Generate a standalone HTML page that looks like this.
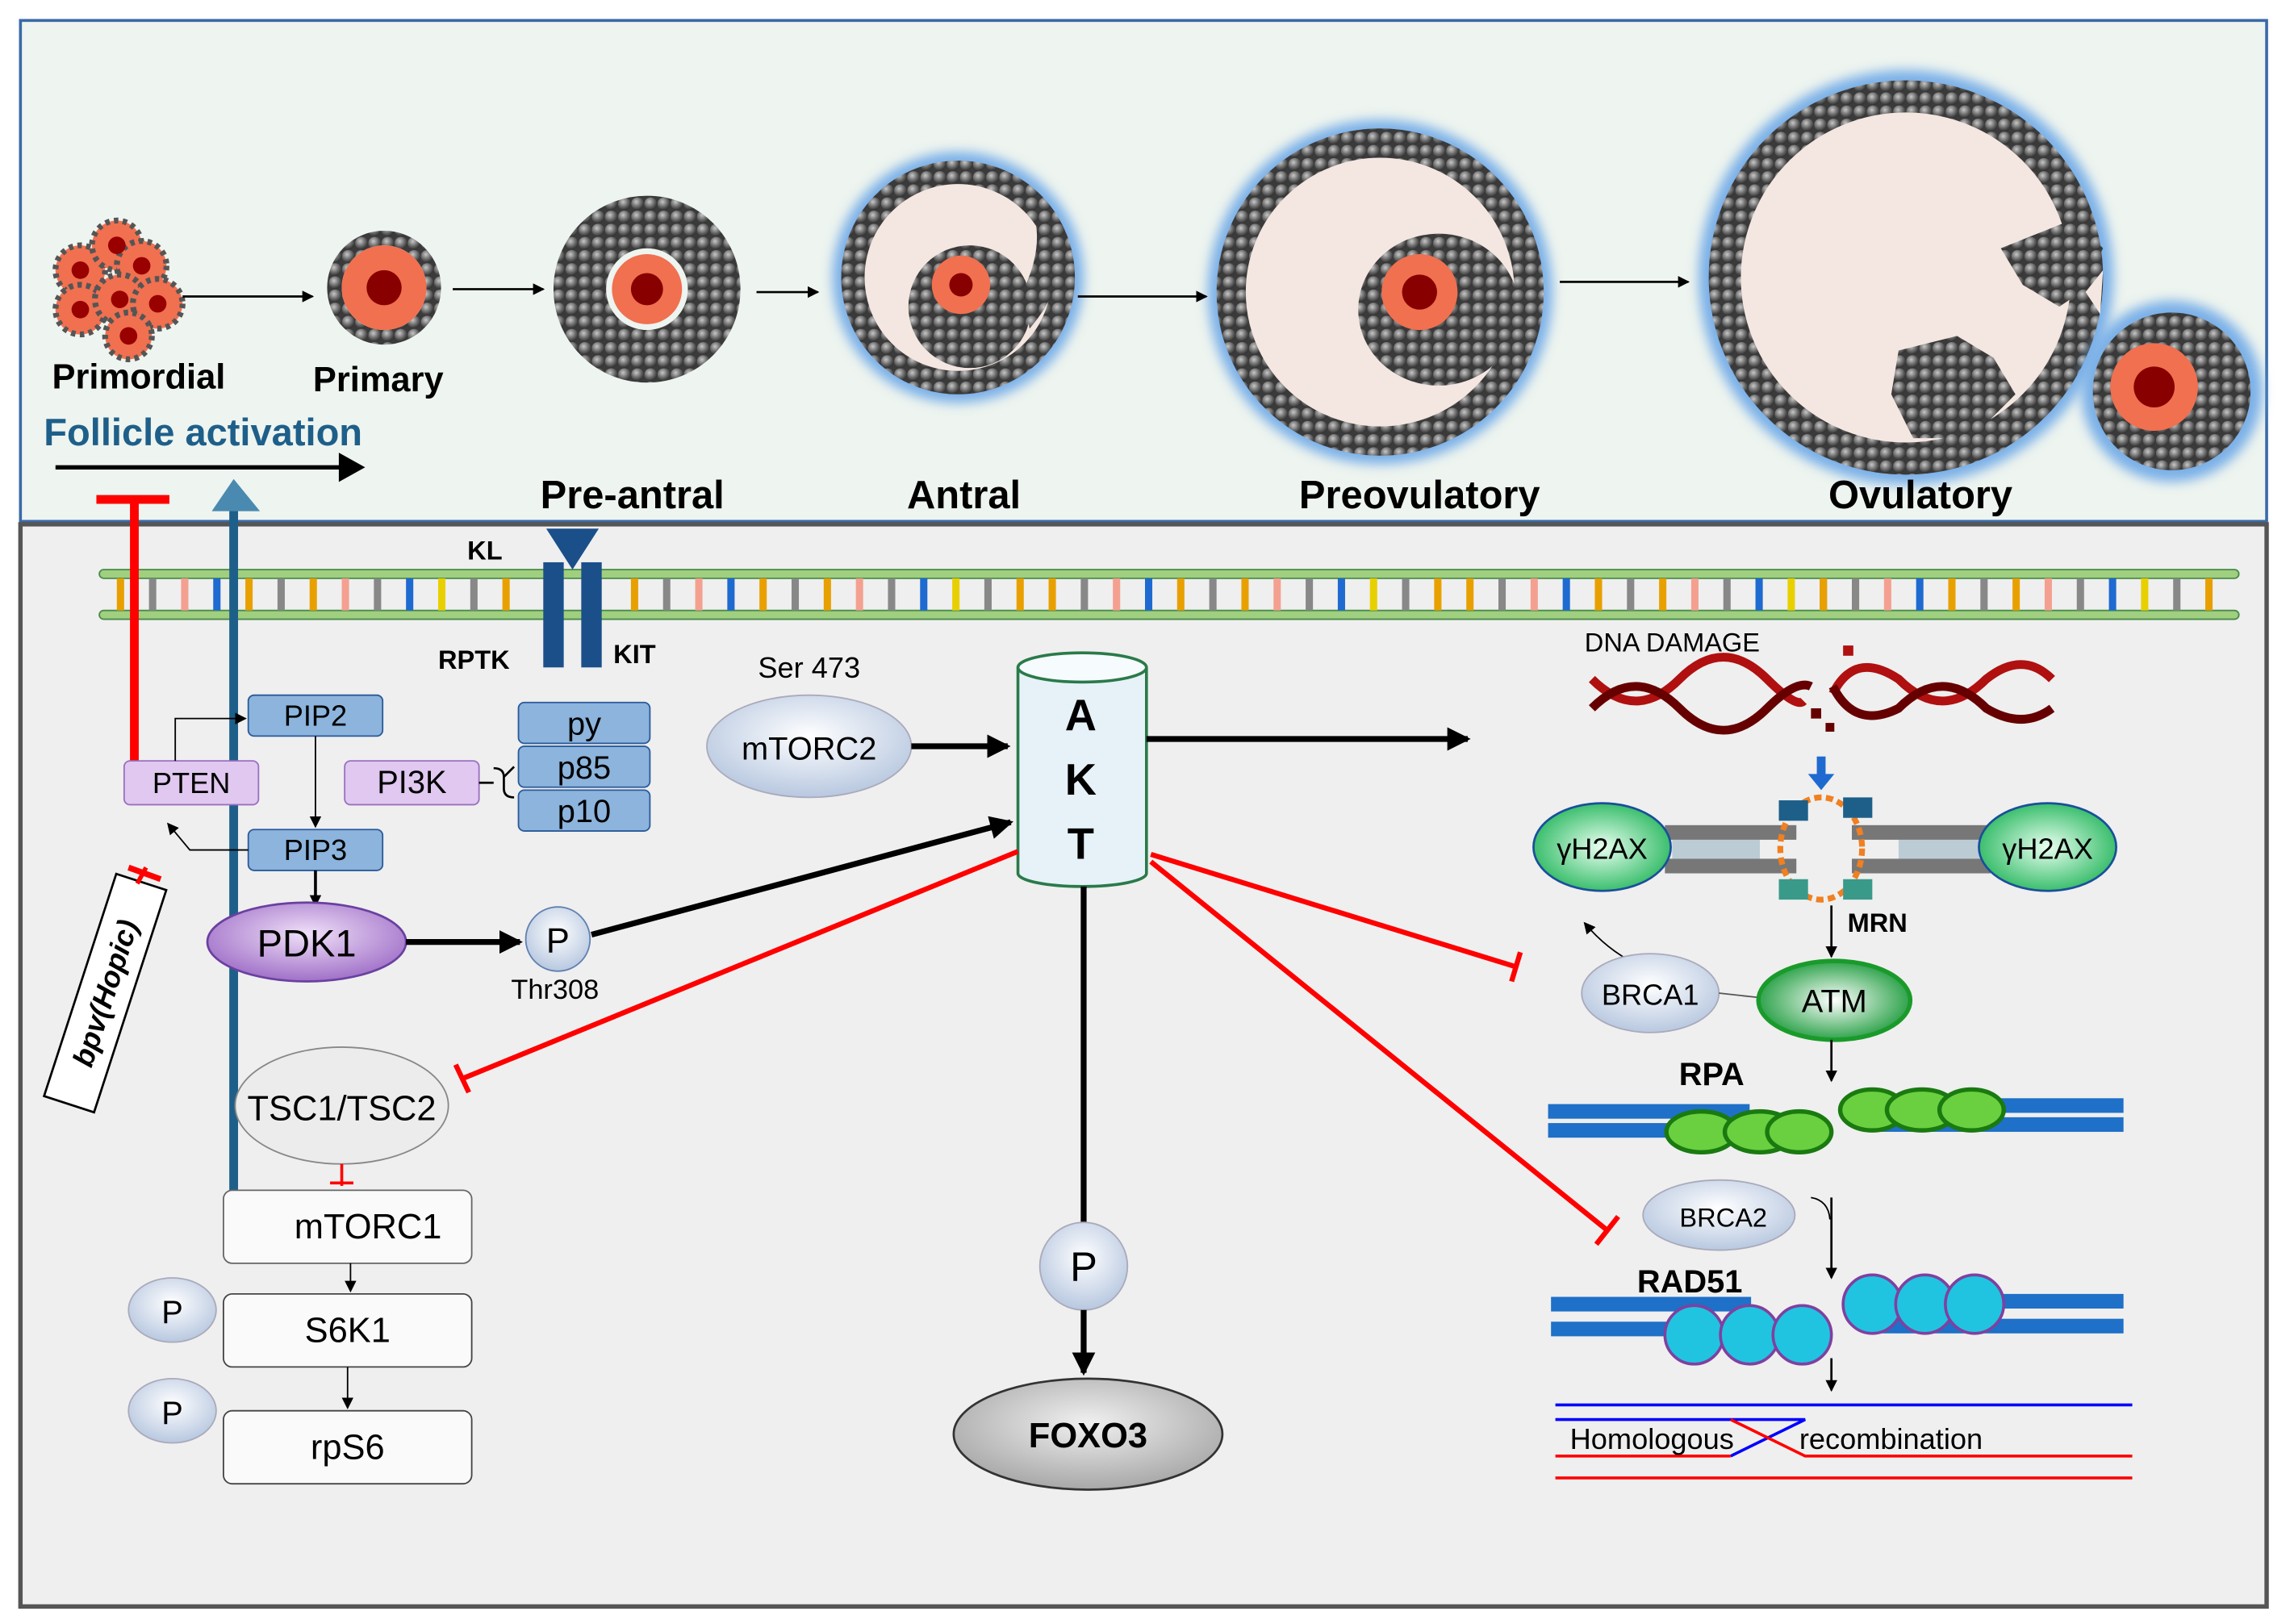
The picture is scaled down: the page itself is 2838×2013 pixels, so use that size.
<!DOCTYPE html>
<html><head><meta charset="utf-8"><style>
html,body{margin:0;padding:0;background:#fff;}
svg{display:block;}
text{font-family:"Liberation Sans",sans-serif;}
</style></head><body>
<svg width="2838" height="2013" viewBox="0 0 1568 1112" preserveAspectRatio="none" xmlns="http://www.w3.org/2000/svg">
<defs>
<marker id="ah" markerWidth="8" markerHeight="8" refX="7" refY="4" orient="auto" markerUnits="userSpaceOnUse"><path d="M0,0 L8,4 L0,8z" fill="#000"/></marker>
<marker id="ahb" markerWidth="16" markerHeight="16" refX="14" refY="8" orient="auto" markerUnits="userSpaceOnUse"><path d="M0,0 L16,8 L0,16z" fill="#000"/></marker>
<radialGradient id="gr" cx="50%" cy="40%" r="60%"><stop offset="0" stop-color="#fff"/><stop offset="1" stop-color="#b8c8e0"/></radialGradient>
<radialGradient id="gg" cx="50%" cy="50%" r="55%"><stop offset="0" stop-color="#fff"/><stop offset="1" stop-color="#1a9a3a"/></radialGradient>
<radialGradient id="gh" cx="50%" cy="50%" r="55%"><stop offset="0" stop-color="#e8fff0"/><stop offset="1" stop-color="#2ab860"/></radialGradient>
<radialGradient id="gp" cx="50%" cy="40%" r="60%"><stop offset="0" stop-color="#f0e0f8"/><stop offset="1" stop-color="#a070c8"/></radialGradient>
<radialGradient id="gy" cx="50%" cy="40%" r="60%"><stop offset="0" stop-color="#f0f0f0"/><stop offset="1" stop-color="#a8a8a8"/></radialGradient>
<radialGradient id="bd" cx="40%" cy="35%" r="65%"><stop offset="0" stop-color="#c8c8c8"/><stop offset="0.6" stop-color="#6a6a6a"/><stop offset="1" stop-color="#333"/></radialGradient>
<pattern id="beads" width="9" height="9" patternUnits="userSpaceOnUse">
<rect width="9" height="9" fill="#3a3a3a"/><circle cx="4.5" cy="4.5" r="4.3" fill="url(#bd)"/>
</pattern>
<filter id="glow"><feGaussianBlur stdDeviation="4"/></filter>
</defs>
<!-- panels -->
<rect x="14" y="14" width="1538" height="343" fill="#eef4ef" stroke="#3a6aa8" stroke-width="2"/>
<rect x="14" y="359" width="1538" height="741" fill="#efefef" stroke="#555" stroke-width="3"/>

<!-- follicles -->
<g>
<circle cx="55" cy="185" r="17" fill="#f07050" stroke="#555" stroke-width="4" stroke-dasharray="3 3"/>
<circle cx="80" cy="168" r="17" fill="#f07050" stroke="#555" stroke-width="4" stroke-dasharray="3 3"/>
<circle cx="97" cy="182" r="17" fill="#f07050" stroke="#555" stroke-width="4" stroke-dasharray="3 3"/>
<circle cx="55" cy="212" r="17" fill="#f07050" stroke="#555" stroke-width="4" stroke-dasharray="3 3"/>
<circle cx="82" cy="205" r="17" fill="#f07050" stroke="#555" stroke-width="4" stroke-dasharray="3 3"/>
<circle cx="108" cy="208" r="17" fill="#f07050" stroke="#555" stroke-width="4" stroke-dasharray="3 3"/>
<circle cx="88" cy="230" r="16" fill="#f07050" stroke="#555" stroke-width="4" stroke-dasharray="3 3"/>
<circle cx="55" cy="185" r="6" fill="#900"/><circle cx="80" cy="168" r="6" fill="#900"/><circle cx="97" cy="182" r="6" fill="#900"/><circle cx="55" cy="212" r="6" fill="#900"/><circle cx="82" cy="205" r="6" fill="#900"/><circle cx="108" cy="208" r="6" fill="#900"/><circle cx="88" cy="230" r="6" fill="#900"/>
</g>
<circle cx="263" cy="197" r="34" fill="none" stroke="url(#beads)" stroke-width="10"/>
<circle cx="263" cy="197" r="29" fill="#f07050"/>
<circle cx="263" cy="197" r="12" fill="#800"/>
<circle cx="443" cy="198" r="46" fill="none" stroke="url(#beads)" stroke-width="36"/>
<circle cx="443" cy="198" r="24" fill="#f07050"/><circle cx="443" cy="198" r="11" fill="#800"/>
<!-- antral -->
<circle cx="656" cy="190" r="86" fill="#7ab0e8" filter="url(#glow)"/>
<circle cx="656" cy="190" r="72" fill="#f4e6e0" stroke="url(#beads)" stroke-width="16"/>
<ellipse cx="664" cy="210" rx="42" ry="42" fill="url(#beads)"/>
<path d="M700,200 Q720,160 700,130 L725,150 Q735,190 705,225z" fill="url(#beads)"/>
<circle cx="658" cy="195" r="20" fill="#f07050"/><circle cx="658" cy="195" r="8" fill="#800"/>
<!-- preovulatory -->
<circle cx="945" cy="200" r="118" fill="#7ab0e8" filter="url(#glow)"/>
<circle cx="945" cy="200" r="102" fill="#f4e6e0" stroke="url(#beads)" stroke-width="20"/>
<ellipse cx="985" cy="212" rx="55" ry="52" fill="url(#beads)"/>
<circle cx="972" cy="200" r="26" fill="#f07050"/><circle cx="972" cy="200" r="12" fill="#800"/>
<!-- ovulatory -->
<circle cx="1305" cy="190" r="142" fill="#7ab0e8" filter="url(#glow)"/>
<circle cx="1305" cy="190" r="124" fill="#f4e6e0" stroke="url(#beads)" stroke-width="22"/>
<path d="M1420,150 L1440,170 L1425,200 L1410,210 L1385,195 L1370,170 L1395,160z" fill="url(#beads)"/>
<path d="M1300,240 L1340,230 L1365,245 L1380,270 L1350,300 L1310,300 L1295,270z" fill="url(#beads)"/>
<path d="M1438,215 L1440,185 L1428,200z" fill="#f4e6e0"/>
<circle cx="1487" cy="268" r="62" fill="#7ab0e8" filter="url(#glow)"/>
<circle cx="1487" cy="268" r="54" fill="url(#beads)"/>
<circle cx="1475" cy="265" r="30" fill="#f07050"/><circle cx="1475" cy="265" r="14" fill="#800"/>
<!-- follicle arrows -->
<g stroke="#000" stroke-width="1.5" marker-end="url(#ah)">
<line x1="125" y1="203" x2="214" y2="203"/><line x1="310" y1="198" x2="372" y2="198"/>
<line x1="518" y1="200" x2="560" y2="200"/><line x1="738" y1="203" x2="826" y2="203"/>
<line x1="1068" y1="193" x2="1156" y2="193"/>
</g>
<g font-weight="bold" font-size="24" text-anchor="middle">
<text x="95" y="266">Primordial</text><text x="259" y="268">Primary</text>
<text x="433" y="348" font-size="27">Pre-antral</text><text x="660" y="348" font-size="27">Antral</text>
<text x="972" y="348" font-size="27">Preovulatory</text><text x="1315" y="348" font-size="27">Ovulatory</text>
</g>
<text x="30" y="305" font-size="26" font-weight="bold" fill="#1e5f8a">Follicle activation</text>
<line x1="38" y1="320" x2="236" y2="320" stroke="#000" stroke-width="3"/><path d="M232,310 L250,320 L232,330z"/>

<!-- membrane -->
<g>
<rect x="68" y="390" width="1465" height="6" rx="3" fill="#9fcf7f" stroke="#4a8a4a"/>
<rect x="68" y="418" width="1465" height="6" rx="3" fill="#9fcf7f" stroke="#4a8a4a"/>
<g id="bars">
<rect x="80" y="396" width="5" height="22" fill="#e8a000"/><rect x="102" y="396" width="5" height="22" fill="#888"/><rect x="124" y="396" width="5" height="22" fill="#f4a090"/><rect x="146" y="396" width="5" height="22" fill="#1e6ad0"/><rect x="168" y="396" width="5" height="22" fill="#e8a000"/><rect x="190" y="396" width="5" height="22" fill="#888"/><rect x="212" y="396" width="5" height="22" fill="#e8a000"/><rect x="234" y="396" width="5" height="22" fill="#f4a090"/><rect x="256" y="396" width="5" height="22" fill="#888"/><rect x="278" y="396" width="5" height="22" fill="#1e6ad0"/><rect x="300" y="396" width="5" height="22" fill="#e8d000"/><rect x="322" y="396" width="5" height="22" fill="#888"/><rect x="344" y="396" width="5" height="22" fill="#e8a000"/>
</g>
<use href="#bars" x="352"/><use href="#bars" x="638"/><use href="#bars" x="924"/><use href="#bars" x="1166"/>
</g>
<!-- receptor -->
<path d="M374,362 L410,362 L392,390z" fill="#1a4f8a"/>
<rect x="372" y="385" width="14" height="72" fill="#1a4f8a"/><rect x="398" y="385" width="14" height="72" fill="#1a4f8a"/>
<text x="320" y="383" font-size="18" font-weight="bold">KL</text>
<text x="300" y="458" font-size="18" font-weight="bold">RPTK</text>
<text x="420" y="454" font-size="18" font-weight="bold">KIT</text>

<!-- inhibitor / activation lines left -->
<line x1="92" y1="342" x2="92" y2="521" stroke="#f00" stroke-width="6"/>
<line x1="66" y1="342" x2="116" y2="342" stroke="#f00" stroke-width="6"/>
<line x1="160" y1="345" x2="160" y2="815" stroke="#1e5f8a" stroke-width="6"/>
<path d="M145,350 L160,328 L178,350z" fill="#4a8ab0"/>

<!-- PI3K module -->
<g font-size="20" text-anchor="middle">
<rect x="170" y="476" width="92" height="28" rx="4" fill="#8cb4dc" stroke="#2a5a9a"/><text x="216" y="497">PIP2</text>
<rect x="170" y="568" width="92" height="28" rx="4" fill="#8cb4dc" stroke="#2a5a9a"/><text x="216" y="589">PIP3</text>
<rect x="85" y="521" width="92" height="30" rx="4" fill="#e0c8f0" stroke="#9a70c0"/><text x="131" y="543">PTEN</text>
<rect x="236" y="521" width="92" height="30" rx="4" fill="#e0c8f0" stroke="#9a70c0"/><text x="282" y="543" font-size="22">PI3K</text>
<rect x="355" y="481" width="90" height="28" rx="4" fill="#8cb4dc" stroke="#2a5a9a"/><text x="400" y="503" font-size="22">py</text>
<rect x="355" y="511" width="90" height="28" rx="4" fill="#8cb4dc" stroke="#2a5a9a"/><text x="400" y="533" font-size="22">p85</text>
<rect x="355" y="541" width="90" height="28" rx="4" fill="#8cb4dc" stroke="#2a5a9a"/><text x="400" y="563" font-size="22">p10</text>
</g>
<path d="M328,536 L338,536 M338,526 Q345,526 345,532 L345,540 Q345,546 352,546 M345,532 L352,525" stroke="#000" fill="none" stroke-width="1.5"/>
<path d="M120,521 L120,492 L168,492" stroke="#000" fill="none" stroke-width="1" marker-end="url(#ah)"/>
<path d="M170,582 L130,582 L115,564" stroke="#000" fill="none" stroke-width="1" marker-end="url(#ah)"/>
<line x1="216" y1="504" x2="216" y2="566" stroke="#000" marker-end="url(#ah)"/>
<line x1="216" y1="596" x2="216" y2="620" stroke="#000" stroke-width="2" marker-end="url(#ah)"/>
<ellipse cx="210" cy="645" rx="68" ry="27" fill="url(#gp)" stroke="#6a40a0" stroke-width="1.5"/>
<text x="210" y="655" font-size="26" text-anchor="middle">PDK1</text>
<line x1="278" y1="645" x2="356" y2="645" stroke="#000" stroke-width="4" marker-end="url(#ahb)"/>
<circle cx="382" cy="643" r="22" fill="url(#gr)" stroke="#6080b0"/>
<text x="382" y="652" font-size="24" text-anchor="middle">P</text>
<text x="380" y="684" font-size="19" text-anchor="middle">Thr308</text>
<line x1="405" y1="640" x2="692" y2="563" stroke="#000" stroke-width="4" marker-end="url(#ahb)"/>

<!-- bpv -->
<g transform="translate(72,680) rotate(-72)">
<rect x="-80" y="-18" width="160" height="36" fill="#fff" stroke="#000" stroke-width="1.5"/>
<text x="0" y="7" font-size="20" font-weight="bold" font-style="italic" text-anchor="middle">bpv(Hopic)</text>
</g>
<line x1="94" y1="605" x2="100" y2="594" stroke="#f00" stroke-width="3"/>
<line x1="88" y1="594" x2="110" y2="602" stroke="#f00" stroke-width="4"/>

<!-- mTOR -->
<ellipse cx="234" cy="757" rx="73" ry="40" fill="#ececec" stroke="#888"/>
<text x="234" y="767" font-size="24" text-anchor="middle">TSC1/TSC2</text>
<line x1="234" y1="797" x2="234" y2="812" stroke="#f00" stroke-width="2"/><line x1="226" y1="810" x2="242" y2="810" stroke="#f00" stroke-width="2"/>
<g font-size="24" text-anchor="middle">
<rect x="153" y="815" width="170" height="50" rx="6" fill="#fafafa" stroke="#666"/><text x="252" y="848">mTORC1</text>
<rect x="153" y="886" width="170" height="50" rx="6" fill="#fafafa" stroke="#444"/><text x="238" y="919">S6K1</text>
<rect x="153" y="966" width="170" height="50" rx="6" fill="#fafafa" stroke="#444"/><text x="238" y="999">rpS6</text>
</g>
<line x1="240" y1="865" x2="240" y2="884" stroke="#000" marker-end="url(#ah)"/>
<line x1="238" y1="936" x2="238" y2="964" stroke="#000" marker-end="url(#ah)"/>
<ellipse cx="118" cy="897" rx="30" ry="22" fill="url(#gr)" stroke="#aab"/><text x="118" y="906" font-size="22" text-anchor="middle">P</text>
<ellipse cx="118" cy="966" rx="30" ry="22" fill="url(#gr)" stroke="#aab"/><text x="118" y="975" font-size="22" text-anchor="middle">P</text>

<!-- mTORC2 / AKT -->
<text x="554" y="464" font-size="20" text-anchor="middle">Ser 473</text>
<ellipse cx="554" cy="511" rx="70" ry="35" fill="url(#gr)" stroke="#aab"/>
<text x="554" y="520" font-size="22" text-anchor="middle">mTORC2</text>
<line x1="624" y1="511" x2="690" y2="511" stroke="#000" stroke-width="4" marker-end="url(#ahb)"/>
<path d="M697,457 L697,598 A44,9 0 0 0 785,598 L785,457" fill="#e6f2f8" stroke="#2a7a4a" stroke-width="2"/>
<ellipse cx="741" cy="457" rx="44" ry="10" fill="#f6fbfd" stroke="#2a7a4a" stroke-width="2"/>
<g font-size="30" font-weight="bold" text-anchor="middle"><text x="740" y="500">A</text><text x="740" y="544">K</text><text x="740" y="588">T</text></g>
<line x1="785" y1="506" x2="1005" y2="506" stroke="#000" stroke-width="4" marker-end="url(#ahb)"/>
<line x1="742" y1="607" x2="742" y2="838" stroke="#000" stroke-width="4"/>
<ellipse cx="742" cy="867" rx="30" ry="30" fill="url(#gr)" stroke="#aab"/><text x="742" y="877" font-size="28" text-anchor="middle">P</text>
<line x1="742" y1="897" x2="742" y2="940" stroke="#000" stroke-width="4" marker-end="url(#ahb)"/>
<ellipse cx="745" cy="982" rx="92" ry="38" fill="url(#gy)" stroke="#333" stroke-width="1.5"/>
<text x="745" y="991" font-size="24" font-weight="bold" text-anchor="middle">FOXO3</text>

<!-- red inhibition lines -->
<g stroke="#f00" stroke-width="3.5" fill="none">
<line x1="697" y1="583" x2="318" y2="738"/><line x1="312" y1="729" x2="321" y2="748"/>
<line x1="788" y1="585" x2="1038" y2="662"/><line x1="1041" y1="652" x2="1035" y2="672"/>
<line x1="788" y1="590" x2="1100" y2="842"/><line x1="1108" y1="833" x2="1093" y2="852"/>
</g>

<!-- DNA damage side -->
<text x="1085" y="446" font-size="18">DNA  DAMAGE</text>
<g fill="none" stroke-width="6">
<path d="M1090,465 Q1120,495 1150,465 Q1180,435 1210,465 Q1230,485 1235,480" stroke="#b01010"/>
<path d="M1090,485 Q1120,455 1150,485 Q1180,515 1210,485 Q1230,465 1240,470" stroke="#600"/>
<path d="M1255,475 Q1270,445 1300,465 Q1330,495 1360,465 Q1385,445 1405,465" stroke="#b01010"/>
<path d="M1255,470 Q1270,500 1300,485 Q1330,455 1360,485 Q1385,500 1405,485" stroke="#600"/>
</g>
<rect x="1262" y="442" width="7" height="7" fill="#b01010"/><rect x="1240" y="485" width="7" height="7" fill="#600"/><rect x="1250" y="495" width="6" height="6" fill="#600"/>
<rect x="1244" y="518" width="6" height="14" fill="#1e6ad0"/><path d="M1238,530 L1256,530 L1247,541z" fill="#1e6ad0"/>
<!-- H2AX complex -->
<rect x="1140" y="565" width="90" height="10" fill="#777"/><rect x="1140" y="588" width="90" height="10" fill="#777"/>
<rect x="1268" y="565" width="95" height="10" fill="#777"/><rect x="1268" y="588" width="95" height="10" fill="#777"/>
<rect x="1145" y="575" width="60" height="13" fill="#8ab" opacity="0.5"/><rect x="1300" y="575" width="60" height="13" fill="#8ab" opacity="0.5"/>
<ellipse cx="1247" cy="581" rx="28" ry="35" fill="none" stroke="#f08020" stroke-width="4" stroke-dasharray="5 3"/>
<rect x="1218" y="548" width="20" height="14" fill="#1e5f8a"/><rect x="1262" y="546" width="20" height="14" fill="#1e5f8a"/>
<rect x="1218" y="602" width="20" height="14" fill="#3a9a8a"/><rect x="1262" y="602" width="20" height="14" fill="#3a9a8a"/>
<ellipse cx="1097" cy="580" rx="47" ry="30" fill="url(#gh)" stroke="#1a4f9a" stroke-width="1.5"/>
<text x="1097" y="588" font-size="20" text-anchor="middle">γH2AX</text>
<ellipse cx="1402" cy="580" rx="47" ry="30" fill="url(#gh)" stroke="#1a4f9a" stroke-width="1.5"/>
<text x="1402" y="588" font-size="20" text-anchor="middle">γH2AX</text>
<text x="1265" y="638" font-size="18" font-weight="bold">MRN</text>
<line x1="1254" y1="620" x2="1254" y2="655" stroke="#000" stroke-width="1.5" marker-end="url(#ah)"/>
<path d="M1120,660 Q1100,650 1085,632" stroke="#000" fill="none" marker-end="url(#ah)"/>
<ellipse cx="1130" cy="680" rx="47" ry="27" fill="url(#gr)" stroke="#aab"/>
<text x="1130" y="688" font-size="20" text-anchor="middle">BRCA1</text>
<line x1="1177" y1="680" x2="1204" y2="683" stroke="#555"/>
<ellipse cx="1256" cy="685" rx="52" ry="27" fill="url(#gg)" stroke="#1a9a2a" stroke-width="3"/>
<text x="1256" y="693" font-size="22" text-anchor="middle">ATM</text>
<line x1="1254" y1="712" x2="1254" y2="740" stroke="#000" stroke-width="1.5" marker-end="url(#ah)"/>
<text x="1172" y="743" font-size="22" font-weight="bold" text-anchor="middle">RPA</text>
<!-- RPA strands -->
<rect x="1060" y="756" width="138" height="10" fill="#1e70c8"/><rect x="1060" y="769" width="138" height="10" fill="#1e70c8"/>
<rect x="1280" y="752" width="174" height="10" fill="#1e70c8"/><rect x="1280" y="765" width="174" height="10" fill="#1e70c8"/>
<g fill="#6ad040" stroke="#1a7a10" stroke-width="3">
<ellipse cx="1165" cy="775" rx="24" ry="14"/><ellipse cx="1205" cy="775" rx="24" ry="14"/><ellipse cx="1232" cy="775" rx="22" ry="14"/>
<ellipse cx="1282" cy="760" rx="22" ry="14"/><ellipse cx="1316" cy="760" rx="24" ry="14"/><ellipse cx="1350" cy="760" rx="22" ry="14"/>
</g>
<ellipse cx="1177" cy="832" rx="52" ry="24" fill="url(#gr)" stroke="#aab"/>
<text x="1180" y="840" font-size="18" text-anchor="middle">BRCA2</text>
<path d="M1240,820 Q1252,822 1253,835" stroke="#000" fill="none"/>
<line x1="1254" y1="820" x2="1254" y2="875" stroke="#000" stroke-width="1.5" marker-end="url(#ah)"/>
<text x="1157" y="885" font-size="22" font-weight="bold" text-anchor="middle">RAD51</text>
<rect x="1062" y="888" width="137" height="10" fill="#1e70c8"/><rect x="1062" y="905" width="137" height="10" fill="#1e70c8"/>
<rect x="1282" y="886" width="172" height="10" fill="#1e70c8"/><rect x="1282" y="903" width="172" height="10" fill="#1e70c8"/>
<g fill="#20c4e0" stroke="#8040a0" stroke-width="2">
<circle cx="1160" cy="914" r="20"/><circle cx="1198" cy="914" r="20"/><circle cx="1234" cy="914" r="20"/>
<circle cx="1282" cy="893" r="20"/><circle cx="1318" cy="893" r="20"/><circle cx="1352" cy="893" r="20"/>
</g>
<line x1="1254" y1="930" x2="1254" y2="952" stroke="#000" stroke-width="1.5" marker-end="url(#ah)"/>
<!-- HR -->
<line x1="1065" y1="962" x2="1460" y2="962" stroke="#00f" stroke-width="2"/>
<path d="M1065,972 L1236,972 L1185,997" stroke="#00f" stroke-width="2" fill="none"/>
<line x1="1236" y1="972" x2="1460" y2="972" stroke="#00f" stroke-width="2" opacity="0"/>
<path d="M1065,997 L1185,997" stroke="#f00" stroke-width="2" fill="none"/>
<path d="M1185,972 L1236,997 L1460,997" stroke="#f00" stroke-width="2" fill="none"/>
<line x1="1065" y1="1012" x2="1460" y2="1012" stroke="#f00" stroke-width="2"/>
<text x="1075" y="992" font-size="20">Homologous</text>
<text x="1232" y="992" font-size="20">recombination</text>
</svg>
</body></html>
